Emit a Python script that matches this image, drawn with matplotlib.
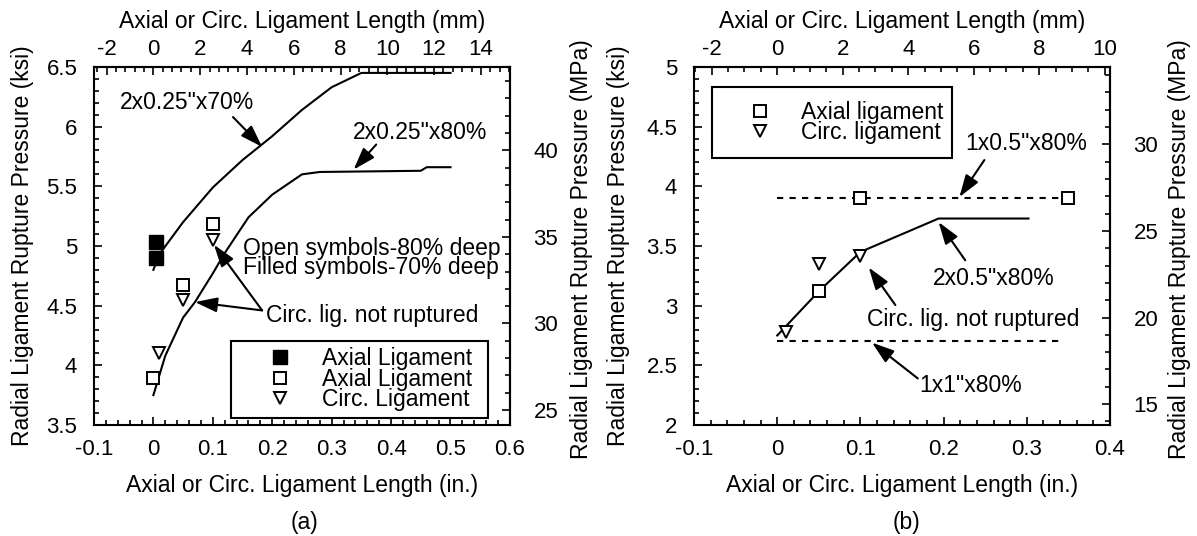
"""Radial ligament rupture pressure vs ligament length, panels (a) and (b)."""

import matplotlib

matplotlib.use("Agg")
import matplotlib.pyplot as plt
from matplotlib.lines import Line2D
from matplotlib.ticker import AutoMinorLocator, FuncFormatter, MultipleLocator

plt.rcParams["font.family"] = ["Liberation Sans", "DejaVu Sans"]
plt.rcParams["axes.unicode_minus"] = False

KSI_TO_MPA = 6.895
IN_TO_MM = 25.4

# --- panel (a) data ---------------------------------------------------------
a_curve70_x = [0.0, 0.01, 0.05, 0.1, 0.15, 0.2, 0.25, 0.3, 0.35, 0.5]
a_curve70_y = [4.80, 4.93, 5.20, 5.49, 5.72, 5.92, 6.14, 6.33, 6.45, 6.45]
a_curve80_x = [0.0, 0.02, 0.05, 0.07, 0.1, 0.12, 0.16, 0.2, 0.25, 0.28, 0.45, 0.46, 0.5]
a_curve80_y = [3.75, 4.08, 4.40, 4.53, 4.77, 4.94, 5.24, 5.43, 5.60, 5.62, 5.63, 5.66, 5.66]
a_axial70_x = [0.005, 0.005]
a_axial70_y = [5.03, 4.90]
a_axial80_x = [0.0, 0.05, 0.1]
a_axial80_y = [3.89, 4.67, 5.18]
a_circ80_x = [0.01, 0.05, 0.1]
a_circ80_y = [4.10, 4.55, 5.05]

# --- panel (b) data ---------------------------------------------------------
b_curve2x05_x = [0.0, 0.05, 0.1, 0.194, 0.302]
b_curve2x05_y = [2.75, 3.12, 3.45, 3.73, 3.73]
b_line1x05_x = [0.0, 0.35]
b_line1x05_y = [3.9, 3.9]
b_line1x1_x = [0.0, 0.343]
b_line1x1_y = [2.7, 2.7]
b_axial_x = [0.1, 0.35, 0.05]
b_axial_y = [3.90, 3.90, 3.12]
b_circ_x = [0.01, 0.05, 0.1]
b_circ_y = [2.78, 3.35, 3.42]

TICK_FS = 16
LABEL_FS = 16.5
TEXT_FS = 16.5
LW = 1.5
FMT = FuncFormatter(lambda v, _p: f"{v:g}")


def _arrow(ax, start, tip):
    ax.annotate(
        "",
        xy=tip,
        xytext=start,
        arrowprops=dict(
            arrowstyle="-|>,head_length=0.75,head_width=0.25",
            color="black",
            lw=LW,
            shrinkA=0,
            shrinkB=0,
            mutation_scale=18,
        ),
    )


def _setup_axes(ax, xlim, ylim, top_minor, label_x):
    ax.set_xlim(*xlim)
    ax.set_ylim(*ylim)
    ax.xaxis.set_major_locator(MultipleLocator(0.1))
    ax.xaxis.set_minor_locator(AutoMinorLocator(5))
    ax.yaxis.set_major_locator(MultipleLocator(0.5))
    ax.yaxis.set_minor_locator(AutoMinorLocator(5))
    ax.xaxis.set_major_formatter(FMT)
    ax.yaxis.set_major_formatter(FMT)
    ax.tick_params(which="both", direction="in", top=False, right=False,
                   width=1.2, labelsize=TICK_FS)
    ax.tick_params(which="major", length=6)
    ax.tick_params(which="minor", length=3.5)
    ax.tick_params(axis="x", pad=10)
    ax.tick_params(axis="y", pad=12)
    for sp in ax.spines.values():
        sp.set_linewidth(LW)

    ax.set_xlabel("Axial or Circ. Ligament Length (in.)", fontsize=LABEL_FS)
    ax.set_ylabel("Radial Ligament Rupture Pressure (ksi)", fontsize=LABEL_FS)
    ax.xaxis.set_label_coords(0.5, -0.138)
    ax.yaxis.set_label_coords(label_x[0], 0.5)

    # Top axis in mm.
    top = ax.secondary_xaxis(
        "top", functions=(lambda v: v * IN_TO_MM, lambda v: v / IN_TO_MM)
    )
    top.xaxis.set_major_locator(MultipleLocator(2))
    top.xaxis.set_minor_locator(AutoMinorLocator(top_minor))
    top.xaxis.set_major_formatter(FMT)
    top.tick_params(which="both", direction="in", width=1.2, labelsize=TICK_FS, pad=5)
    top.tick_params(which="major", length=6)
    top.tick_params(which="minor", length=3.5)
    top.set_xlabel("Axial or Circ. Ligament Length (mm)", fontsize=LABEL_FS, labelpad=8)
    top.spines["top"].set_linewidth(LW)

    # Right axis in MPa.
    right = ax.secondary_yaxis(
        "right", functions=(lambda v: v * KSI_TO_MPA, lambda v: v / KSI_TO_MPA)
    )
    right.yaxis.set_major_locator(MultipleLocator(5))
    right.yaxis.set_minor_locator(AutoMinorLocator(5))
    right.yaxis.set_major_formatter(FMT)
    right.tick_params(which="both", direction="in", width=1.2, labelsize=TICK_FS, pad=17)
    right.tick_params(which="major", length=6)
    right.tick_params(which="minor", length=3.5)
    right.set_ylabel("Radial Ligament Rupture Pressure (MPa)", fontsize=LABEL_FS)
    right.yaxis.set_label_coords(label_x[1], 0.49, transform=ax.transAxes)
    right.spines["right"].set_linewidth(LW)


def _draw_panel_a(ax):
    _setup_axes(ax, (-0.1, 0.6), (3.5, 6.5), 5, (-0.144, 1.144))

    ax.plot(a_curve70_x, a_curve70_y, color="black", lw=LW)
    ax.plot(a_curve80_x, a_curve80_y, color="black", lw=LW)

    ax.plot(a_axial70_x, a_axial70_y, "s", color="black", ms=9.5, zorder=4)
    ax.plot(a_axial80_x, a_axial80_y, "s", mfc="white", mec="black", mew=1.4, ms=8, zorder=4)
    ax.plot(a_circ80_x, a_circ80_y, "v", mfc="white", mec="black", mew=1.4, ms=9, zorder=4)

    ax.text(0.057, 6.2, '2x0.25"x70%', fontsize=TEXT_FS, ha="center", va="center")
    _arrow(ax, (0.134, 6.08), (0.183, 5.83))
    ax.text(0.449, 5.95, '2x0.25"x80%', fontsize=TEXT_FS, ha="center", va="center")
    _arrow(ax, (0.375, 5.85), (0.337, 5.64))

    ax.text(0.150, 4.98, "Open symbols-80% deep", fontsize=TEXT_FS, ha="left", va="center")
    ax.text(0.150, 4.82, "Filled symbols-70% deep", fontsize=TEXT_FS, ha="left", va="center")
    ax.text(0.189, 4.42, "Circ. lig. not ruptured", fontsize=TEXT_FS, ha="left", va="center")
    _arrow(ax, (0.183, 4.46), (0.070, 4.53))
    _arrow(ax, (0.183, 4.46), (0.102, 5.01))

    handles = [
        Line2D([], [], ls="none", marker="s", color="black", ms=9.5),
        Line2D([], [], ls="none", marker="s", mfc="white", mec="black", mew=1.4, ms=8),
        Line2D([], [], ls="none", marker="v", mfc="white", mec="black", mew=1.4, ms=9),
    ]
    leg = ax.legend(
        handles,
        ["Axial Ligament", "Axial Ligament", "Circ. Ligament"],
        loc="lower left",
        bbox_to_anchor=(0.329, 0.02, 0.618, 0.23),
        mode="expand",
        borderaxespad=0,
        fontsize=TEXT_FS,
        handlelength=3.7,
        handletextpad=0.0,
        labelspacing=-0.12,
        borderpad=0.3,
        fancybox=False,
        framealpha=1,
        edgecolor="black",
    )
    leg.get_frame().set_linewidth(LW)


def _draw_panel_b(ax):
    _setup_axes(ax, (-0.1, 0.4), (2.0, 5.0), 4, (-0.154, 1.139))

    ax.plot(b_curve2x05_x, b_curve2x05_y, color="black", lw=LW)
    ax.plot(b_line1x05_x, b_line1x05_y, color="black", lw=LW, dashes=(3, 3))
    ax.plot(b_line1x1_x, b_line1x1_y, color="black", lw=LW, dashes=(3, 3))

    ax.plot(b_axial_x, b_axial_y, "s", mfc="white", mec="black", mew=1.4, ms=8, zorder=4)
    ax.plot(b_circ_x, b_circ_y, "v", mfc="white", mec="black", mew=1.4, ms=9, zorder=4)

    ax.text(0.299, 4.36, '1x0.5"x80%', fontsize=TEXT_FS, ha="center", va="center")
    _arrow(ax, (0.249, 4.22), (0.219, 3.91))
    ax.text(0.26, 3.23, '2x0.5"x80%', fontsize=TEXT_FS, ha="center", va="center")
    _arrow(ax, (0.226, 3.38), (0.194, 3.70))
    ax.text(0.235, 2.88, "Circ. lig. not ruptured", fontsize=TEXT_FS, ha="center", va="center")
    _arrow(ax, (0.142, 3.005), (0.110, 3.32))
    ax.text(0.233, 2.33, '1x1"x80%', fontsize=TEXT_FS, ha="center", va="center")
    _arrow(ax, (0.169, 2.39), (0.114, 2.69))

    handles = [
        Line2D([], [], ls="none", marker="s", mfc="white", mec="black", mew=1.4, ms=8),
        Line2D([], [], ls="none", marker="v", mfc="white", mec="black", mew=1.4, ms=9),
    ]
    leg = ax.legend(
        handles,
        ["Axial ligament", "Circ. ligament"],
        loc="lower left",
        bbox_to_anchor=(0.043, 0.746, 0.577, 0.2),
        mode="expand",
        borderaxespad=0,
        fontsize=TEXT_FS,
        handlelength=3.0,
        handletextpad=0.3,
        labelspacing=-0.12,
        borderpad=0.6,
        fancybox=False,
        framealpha=1,
        edgecolor="black",
    )
    leg.get_frame().set_linewidth(LW)


fig = plt.figure(figsize=(11.97, 5.36), dpi=100)
ax_a = fig.add_axes([0.0785, 0.2071, 0.3475, 0.668])
ax_b = fig.add_axes([0.5798, 0.2071, 0.3475, 0.668])
_draw_panel_a(ax_a)
_draw_panel_b(ax_b)
fig.text(304 / 1197, 1 - 523 / 536, "(a)", fontsize=LABEL_FS, ha="center", va="center")
fig.text(906 / 1197, 1 - 523 / 536, "(b)", fontsize=LABEL_FS, ha="center", va="center")
fig.savefig("out.png", dpi=100)
